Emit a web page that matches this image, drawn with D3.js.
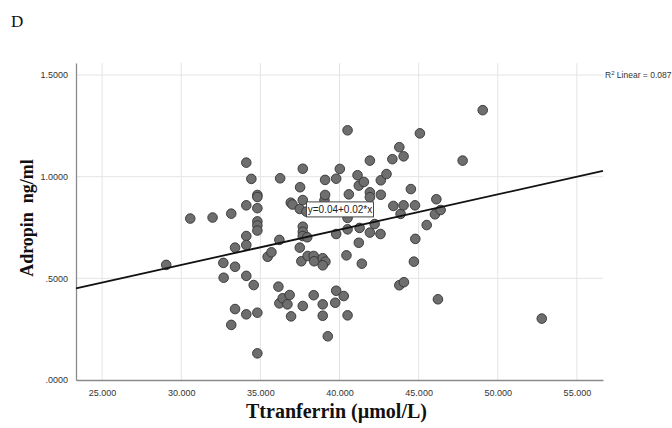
<!DOCTYPE html>
<html>
<head>
<meta charset="utf-8">
<script src="https://cdn.jsdelivr.net/npm/d3@7"></script>
<style>
  body { margin: 0; background: #fff; }
  .tick text { font-family: "Liberation Sans Narrow", "Liberation Sans", Arial, sans-serif; font-size: 9px; fill: #333; }
</style>
</head>
<body>
<div id="chart"></div>
<script>
// Ttranferrin (umol/L) and Adropin (ng/ml)
var transferrin = [
  29.05, 30.57, 31.98, 32.66, 32.68, 33.16, 33.16, 33.40, 33.40, 33.40,
  34.11, 34.43, 34.11, 34.11, 34.11, 34.11, 34.11, 34.58, 34.81, 34.81,
  34.81, 34.81, 34.81, 34.81, 34.81, 34.81, 35.46, 35.70, 36.14, 36.20,
  36.25, 36.20, 36.41, 36.71, 36.85, 36.94, 36.92, 37.03, 37.51, 37.49,
  37.49, 37.59, 37.68, 37.68, 37.68, 37.68, 37.68, 37.68, 37.91, 37.96,
  37.99, 38.37, 38.40, 38.37, 38.94, 39.11, 38.94, 38.94, 38.94, 39.05,
  39.09, 39.09, 39.26, 39.79, 39.79, 39.79, 39.73, 40.02, 40.27, 40.44,
  40.51, 40.51, 40.51, 40.51, 40.59, 41.14, 41.22, 41.22, 41.27, 41.41,
  41.54, 41.92, 41.92, 41.92, 41.92, 42.22, 42.61, 42.61, 42.59, 42.97,
  43.34, 43.40, 43.78, 43.86, 43.78, 44.07, 44.05, 44.05, 44.51, 44.77,
  44.79, 44.70, 45.08, 45.51, 46.03, 46.12, 46.22, 46.39, 47.78, 49.05,
  52.78
];
var adropin = [
  0.566, 0.794, 0.799, 0.576, 0.503, 0.818, 0.271, 0.651, 0.557, 0.349,
  1.069, 0.989, 0.859, 0.708, 0.664, 0.512, 0.323, 0.467, 0.910, 0.900,
  0.845, 0.780, 0.760, 0.735, 0.331, 0.131, 0.606, 0.628, 0.459, 0.689,
  0.992, 0.377, 0.402, 0.372, 0.418, 0.313, 0.872, 0.863, 0.948, 0.841,
  0.651, 0.584, 1.039, 0.885, 0.754, 0.729, 0.708, 0.364, 0.828, 0.702,
  0.610, 0.610, 0.584, 0.417, 0.599, 0.582, 0.564, 0.372, 0.316, 0.884,
  0.984, 0.910, 0.215, 0.990, 0.718, 0.439, 0.380, 1.038, 0.413, 0.613,
  1.228, 0.797, 0.741, 0.318, 0.913, 1.007, 0.956, 0.675, 0.748, 0.572,
  0.974, 1.079, 0.923, 0.899, 0.725, 0.767, 0.982, 0.911, 0.718, 1.013,
  1.086, 0.856, 1.145, 0.817, 0.466, 0.481, 1.100, 0.859, 0.939, 0.859,
  0.694, 0.582, 1.213, 0.762, 0.815, 0.889, 0.397, 0.836, 1.079, 1.327,
  0.302
];

var xTicks = [25, 30, 35, 40, 45, 50, 55];
var yTicks = [0, 0.5, 1.0, 1.5];

// fit line as drawn (intercept, slope)
var fitIntercept = 0.045;
var fitSlope = 0.01736;

var data = transferrin.map(function(t, i) { return { x: t, y: adropin[i] }; });

var svgWidth = 672;
var svgHeight = 428;
var margin = { top: 63, right: 69, bottom: 48, left: 76 };
var width = svgWidth - margin.left - margin.right;
var height = svgHeight - margin.top - margin.bottom;

var svg = d3.select("#chart")
  .append("svg")
  .attr("width", svgWidth)
  .attr("height", svgHeight);

var chartGroup = svg.append("g")
  .attr("transform", `translate(${margin.left}, ${margin.top})`);

var xScale = d3.scaleLinear().domain([23.35, 56.65]).range([0, width]);
var yScale = d3.scaleLinear().domain([0, 1.559]).range([height, 0]);

// gridlines
chartGroup.append("g")
  .selectAll("line")
  .data(xTicks)
  .enter()
  .append("line")
  .attr("x1", d => xScale(d))
  .attr("x2", d => xScale(d))
  .attr("y1", 0)
  .attr("y2", height)
  .attr("stroke", "#e4e4e4")
  .attr("stroke-width", 1);

chartGroup.append("g")
  .selectAll("line")
  .data(yTicks.slice(1))
  .enter()
  .append("line")
  .attr("x1", 0)
  .attr("x2", width)
  .attr("y1", d => yScale(d))
  .attr("y2", d => yScale(d))
  .attr("stroke", "#e4e4e4")
  .attr("stroke-width", 1);

// axes
var bottomAxis = d3.axisBottom(xScale)
  .tickValues(xTicks)
  .tickSize(0)
  .tickPadding(10)
  .tickFormat(d => d3.format(".3f")(d));
var leftAxis = d3.axisLeft(yScale)
  .tickValues(yTicks)
  .tickSize(0)
  .tickPadding(8)
  .tickFormat(d => d3.format(".4f")(d).replace(/^0\./, "."));

var xAxis = chartGroup.append("g")
  .attr("transform", `translate(0, ${height})`)
  .call(bottomAxis);
xAxis.select(".domain").attr("stroke", "#8a8a8a").attr("stroke-width", 1.3);

var yAxis = chartGroup.append("g")
  .call(leftAxis);
yAxis.select(".domain").attr("stroke", "#8a8a8a").attr("stroke-width", 1.3);

// points
chartGroup.append("g")
  .selectAll("circle")
  .data(data)
  .enter()
  .append("circle")
  .attr("cx", d => xScale(d.x))
  .attr("cy", d => yScale(d.y))
  .attr("r", 4.8)
  .attr("fill", "#6e6e6e")
  .attr("stroke", "#333")
  .attr("stroke-width", 0.9);

// fit line across the plot
var xDom = xScale.domain();
chartGroup.append("line")
  .attr("x1", xScale(xDom[0]))
  .attr("y1", yScale(fitIntercept + fitSlope * xDom[0]))
  .attr("x2", xScale(xDom[1]))
  .attr("y2", yScale(fitIntercept + fitSlope * xDom[1]))
  .attr("stroke", "#111")
  .attr("stroke-width", 1.8);

// equation label
var eqX = xScale(40.03), eqY = yScale(0.839);
var eqGroup = chartGroup.append("g")
  .attr("transform", `translate(${eqX}, ${eqY})`);
eqGroup.append("rect")
  .attr("x", -33.5)
  .attr("y", -7.5)
  .attr("width", 67)
  .attr("height", 15)
  .attr("fill", "#fff")
  .attr("stroke", "#444")
  .attr("stroke-width", 1);
eqGroup.append("text")
  .attr("text-anchor", "middle")
  .attr("y", 3.5)
  .attr("font-family", "Liberation Sans Narrow, Liberation Sans, Arial, sans-serif")
  .attr("font-size", "10px")
  .attr("fill", "#222")
  .text("y=0.04+0.02*x");

// R2 label
var r2 = svg.append("text")
  .attr("x", 605)
  .attr("y", 78)
  .attr("font-family", "Liberation Sans Narrow, Liberation Sans, Arial, sans-serif")
  .attr("font-size", "8.5px")
  .attr("fill", "#333");
r2.append("tspan").text("R");
r2.append("tspan").attr("dy", -3).attr("font-size", "6px").text("2");
r2.append("tspan").attr("dy", 3).text(" Linear = 0.087");

// panel letter
svg.append("text")
  .attr("x", 11)
  .attr("y", 27)
  .attr("font-family", "Liberation Serif, Times New Roman, serif")
  .attr("font-size", "17px")
  .attr("fill", "#111")
  .text("D");

// axis titles
svg.append("text")
  .attr("x", margin.left + width / 2 - 3)
  .attr("y", 418)
  .attr("text-anchor", "middle")
  .attr("font-family", "Liberation Serif, Times New Roman, serif")
  .attr("font-weight", "bold")
  .attr("font-size", "20px")
  .attr("fill", "#111")
  .text("Ttranferrin (µmol/L)");

svg.append("text")
  .attr("transform", "translate(33, 218) rotate(-90)")
  .attr("text-anchor", "middle")
  .attr("font-family", "Liberation Serif, Times New Roman, serif")
  .attr("font-weight", "bold")
  .attr("font-size", "18px")
  .attr("fill", "#111")
  .style("white-space", "pre")
  .text("Adropin  ng/ml");
</script>
</body>
</html>
